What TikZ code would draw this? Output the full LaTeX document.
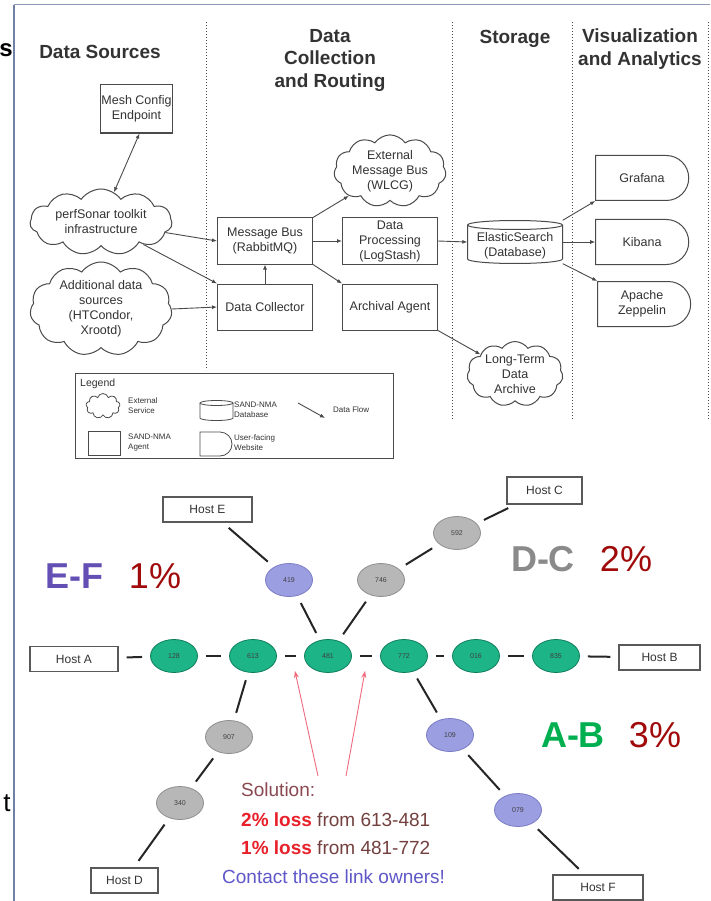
\documentclass[tikz,border=0pt]{standalone}
\usepackage{fontspec}
\setmainfont{Liberation Sans}
\usetikzlibrary{shapes.geometric,shapes.symbols,shapes.misc,arrows.meta}
\definecolor{ink}{HTML}{333333}
\definecolor{lineg}{HTML}{4A4A4A}
\definecolor{framec}{HTML}{6F7FA6}
\definecolor{hopG}{HTML}{1DB487}
\definecolor{hopGd}{HTML}{0E7E5C}
\definecolor{hopK}{HTML}{B7B7B7}
\definecolor{hopKd}{HTML}{8F8F8F}
\definecolor{hopP}{HTML}{9C9EE2}
\definecolor{hopPd}{HTML}{7A7CC4}
\definecolor{efP}{HTML}{6450B4}
\definecolor{dcG}{HTML}{8A8A8A}
\definecolor{abG}{HTML}{00B050}
\definecolor{pctR}{HTML}{A00A0A}
\definecolor{hintR}{HTML}{EE6A7C}
\definecolor{solR}{HTML}{8A4850}
\definecolor{lossR}{HTML}{E8202A}
\definecolor{fromR}{HTML}{73403F}
\definecolor{contP}{HTML}{5E58C8}
\begin{document}
\begin{tikzpicture}[x=1pt,y=-1pt,
  coltitle/.style={font=\fontsize{19}{22.5}\selectfont\bfseries, text=ink, align=center},
  agent/.style={draw=lineg, line width=1pt, minimum width=95pt, minimum height=46pt, inner sep=1pt, align=center, font=\fontsize{12.5}{15}\selectfont, text=ink},
  extsvc/.style={cloud, cloud puffs=11, cloud puff arc=110, cloud ignores aspect, draw=lineg, line width=1pt, inner sep=0pt, align=center, font=\fontsize{12.5}{15}\selectfont, text=ink},
  website/.style={rounded rectangle, rounded rectangle west arc=none, draw=lineg, line width=1pt, minimum width=95pt, minimum height=45pt, inner sep=1pt, align=center, font=\fontsize{12.5}{15}\selectfont, text=ink},
  dbtext/.style={minimum width=95pt, minimum height=43pt, inner sep=1pt, align=center, font=\fontsize{12.5}{15}\selectfont, text=ink},
  flow/.style={-{Latex[length=5pt,width=4pt]}, line width=0.9pt, draw=lineg},
  sepline/.style={draw=lineg, line width=1pt, dash pattern=on 1.4pt off 1.6pt},
  legtext/.style={anchor=west, align=left, font=\fontsize{8}{10}\selectfont, text=ink, inner sep=0pt},
  host/.style={draw=black!65, line width=1.2pt, fill=white, font=\fontsize{12}{14}\selectfont, text=black!80, minimum height=25pt, inner sep=2pt},
  hop/.style={ellipse, minimum width=47pt, minimum height=33pt, inner sep=0pt, font=\fontsize{7}{8}\selectfont, text=black!75, line width=0.8pt},
  hopg/.style={hop, fill=hopG, draw=hopGd},
  hopk/.style={hop, fill=hopK, draw=hopKd},
  hopp/.style={hop, fill=hopP, draw=hopPd},
  link/.style={line width=2pt, draw=black!85, shorten <=8pt, shorten >=8pt},
  hint/.style={draw=hintR, line width=0.9pt, -{Stealth[length=7pt,width=5pt]}},
  bigpair/.style={font=\fontsize{36}{40}\selectfont, inner sep=0pt},
  soltext/.style={anchor=west, inner sep=0pt, font=\fontsize{19}{22}\selectfont}
]
\useasboundingbox (0,0) rectangle (710,901);
\fill[white] (0,0) rectangle (710,901);

% slide frame and cut-off text at left
\draw[framec, line width=1.5pt] (14,5) -- (14,901);
\draw[framec!80, line width=1pt] (14,5) -- (710,5);
\node[font=\fontsize{24}{26}\selectfont\bfseries, inner sep=0pt] (fs) at (6,50) {s};
\node[font=\fontsize{26}{28}\selectfont, inner sep=0pt] (ft) at (7,803) {t};

% ---------- top architecture ----------
\draw[sepline] (206,22) -- (206,370);
\draw[sepline] (452,22) -- (452,420);
\draw[sepline] (572,22) -- (572,420);
\draw[sepline] (708,22) -- (708,420);

\node[coltitle] (t1) at (100,52) {Data Sources};
\node[coltitle] (t2) at (330,60) {Data\\Collection\\and Routing};
\node[coltitle] (t3) at (515,39) {Storage};
\node[coltitle] (t4) at (640,49) {Visualization\\and Analytics};

\node[agent, minimum width=67pt, minimum height=48pt] (mesh) at (136.5,109) {Mesh Config\\Endpoint};
\draw[lineg, line width=2pt] (mesh.south west) -- (mesh.south east);
\node[extsvc, minimum width=142pt, minimum height=66pt] (perf) at (101,222) {perfSonar toolkit\\infrastructure};
\node[extsvc, minimum width=142pt, minimum height=80pt] (addl) at (101,309) {Additional data\\sources\\(HTCondor,\\Xrootd)};

\node[agent] (mb) at (265,241) {Message Bus\\(RabbitMQ)};
\node[agent] (dc) at (265,307) {Data Collector};
\node[extsvc, minimum width=112pt, minimum height=58pt] (xbus) at (390,171) {External\\Message Bus\\(WLCG)};
\node[agent] (dp) at (390,241) {Data\\Processing\\(LogStash)};
\node[agent] (aa) at (390,307) {Archival Agent};

\node[dbtext] (es) at (515,242) {\\[2pt]ElasticSearch\\(Database)};
\draw[lineg, line width=1pt] (515,225) ellipse [x radius=47.5, y radius=4.5];
\draw[lineg, line width=1pt] (467.5,225) -- (467.5,259) arc[start angle=180, end angle=0, x radius=47.5, y radius=4.5] -- (562.5,225);

\node[website] (graf) at (642,178) {Grafana};
\node[website] (kib) at (642,242) {Kibana};
\node[website] (zep) at (642,304) {Apache\\Zeppelin};
\node[extsvc, minimum width=96pt, minimum height=58pt] (lta) at (515,374) {Long-Term\\Data\\Archive};

\draw[{Latex[length=5pt,width=4pt]}-{Latex[length=5pt,width=4pt]}, line width=0.9pt, lineg] (mesh.south) ++(3,0) coordinate (meshb) (meshb) -- (perf);
\draw[flow] (perf) -- (mb.west);
\draw[flow] (perf) -- (dc.north west);
\draw[flow] (addl.east) -- (dc.west);
\draw[flow] (dc.north) -- (mb.south);
\draw[flow] (mb.north east) -- (xbus);
\draw[flow] (mb.east) -- (dp.west);
\draw[flow] (mb.south east) -- (aa.north west);
\draw[flow] (dp.east) -- (es.west);
\draw[flow] (es.north east) -- (graf.south west);
\draw[flow] (es.east) -- (kib.west);
\draw[flow] (es.south east) -- (zep.north west);
\draw[flow] (aa.south east) -- (lta);

% legend
\node[draw=lineg, line width=1pt, minimum width=318pt, minimum height=85pt, inner sep=0pt] (legend) at (234,415.5) {};
\node[legtext, font=\fontsize{10.5}{12}\selectfont] (legt) at (80,384) {Legend};
\node[cloud, cloud puffs=9, cloud ignores aspect, draw=lineg, line width=0.8pt, minimum width=34pt, minimum height=25pt, inner sep=0pt] (lcloud) at (103,406) {};
\node[legtext] (lcloudt) at (128,406) {External\\Service};
\node[draw=lineg, line width=0.8pt, minimum width=32pt, minimum height=24pt, inner sep=0pt] (lrect) at (104,443) {};
\node[legtext] (lrectt) at (128,443) {SAND-NMA\\Agent};
\node[minimum width=33pt, minimum height=20pt, inner sep=0pt] (lcyl) at (216.5,411) {};
\draw[lineg, line width=0.8pt] (216.5,403) ellipse [x radius=16.5, y radius=2.5];
\draw[lineg, line width=0.8pt] (200,403) -- (200,418) arc[start angle=180, end angle=0, x radius=16.5, y radius=2.5] -- (233,403);
\node[legtext] (lcylt) at (234,410) {SAND-NMA\\Database};
\node[rounded rectangle, rounded rectangle west arc=none, draw=lineg, line width=0.8pt, minimum width=32pt, minimum height=24pt, inner sep=0pt] (lweb) at (216,444) {};
\node[legtext] (lwebt) at (234,443) {User-facing\\Website};
\coordinate (lf1) at (298,403);
\coordinate (lf2) at (325,418);
\draw[flow] (lf1) -- (lf2);
\node[legtext] (lflowt) at (333,410) {Data Flow};

% ---------- bottom network ----------
\node[host, minimum width=89pt] (hE) at (207.5,509.5) {Host E};
\node[host, minimum width=75pt, minimum height=27pt] (hC) at (544.5,490.5) {Host C};
\node[host, minimum width=88pt] (hA) at (74,659) {Host A};
\node[host, minimum width=81pt] (hB) at (659.5,657.5) {Host B};
\node[host, minimum width=67pt] (hD) at (124.5,880.5) {Host D};
\node[host, minimum width=90pt] (hF) at (598,887.5) {Host F};

\node[hopp] (n419) at (289,580) {419};
\node[hopk] (n746) at (381,580) {746};
\node[hopk] (n592) at (457,533) {592};
\node[hopg] (n128) at (174,656) {128};
\node[hopg] (n613) at (253,656) {613};
\node[hopg] (n481) at (328,656) {481};
\node[hopg] (n772) at (404,656) {772};
\node[hopg] (n016) at (476,656) {016};
\node[hopg] (n835) at (556,656) {835};
\node[hopk] (n907) at (229,737) {907};
\node[hopk] (n340) at (180,803) {340};
\node[hopp] (n109) at (450,735) {109};
\node[hopp] (n079) at (518,810) {079};

\draw[link] (hA) -- (n128);
\draw[link] (n128) -- (n613);
\draw[link] (n613) -- (n481);
\draw[link] (n481) -- (n772);
\draw[link] (n772) -- (n016);
\draw[link] (n016) -- (n835);
\draw[link] (n835) -- (hB);
\draw[link] (hE) -- (n419);
\draw[link] (n419) -- (n481);
\draw[link] (n481) -- (n746);
\draw[link] (n746) -- (n592);
\draw[link] (n592) -- (hC);
\draw[link] (n613) -- (n907);
\draw[link] (n907) -- (n340);
\draw[link] (n340) -- (hD);
\draw[link] (n772) -- (n109);
\draw[link] (n109) -- (n079);
\draw[link] (n079) -- (hF);

\coordinate (h1s) at (318,776);
\coordinate (h1e) at (295,671);
\coordinate (h2s) at (346,776);
\coordinate (h2e) at (365,671);
\draw[hint] (h1s) -- (h1e);
\draw[hint] (h2s) -- (h2e);

\node[bigpair, text=efP, font=\fontsize{36}{40}\selectfont\bfseries] (ef) at (74,576) {E-F};
\node[bigpair, text=pctR] (efp) at (155,576) {1\%};
\node[bigpair, text=dcG, font=\fontsize{36}{40}\selectfont\bfseries] (dcl) at (543,559) {D-C};
\node[bigpair, text=pctR] (dcp) at (626,559) {2\%};
\node[bigpair, text=abG, font=\fontsize{36}{40}\selectfont\bfseries] (abl) at (573,735) {A-B};
\node[bigpair, text=pctR] (abp) at (655,735) {3\%};

\node[soltext, text=solR] (sol) at (241,790) {Solution:};
\node[soltext, text=fromR] (l1) at (241,820) {\textcolor{lossR}{\bfseries 2\% loss} from 613-481};
\node[soltext, text=fromR] (l2) at (241,848) {\textcolor{lossR}{\bfseries 1\% loss} from 481-772};
\node[soltext, text=contP] (l3) at (222,877) {Contact these link owners!};
\end{tikzpicture}
\end{document}
